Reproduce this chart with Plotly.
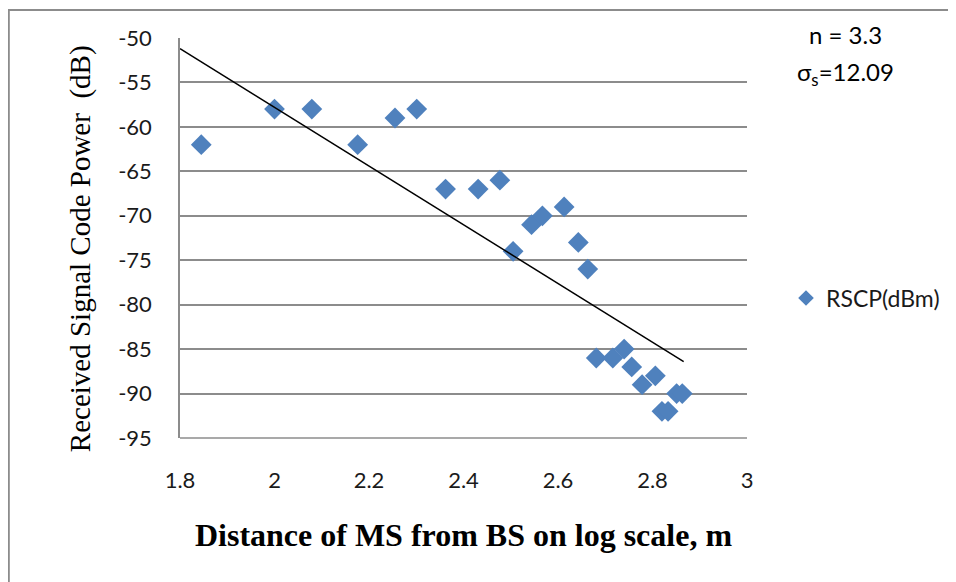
import plotly.graph_objects as go

# Data
dist_log = [1.845, 2.0, 2.079, 2.176, 2.255, 2.301, 2.362, 2.431, 2.477, 2.505,
            2.544, 2.567, 2.613, 2.643, 2.663, 2.681, 2.716, 2.740, 2.756, 2.778,
            2.806, 2.820, 2.833, 2.851, 2.863]
rscp = [-62, -58, -58, -62, -59, -58, -67, -67, -66, -74,
        -71, -70, -69, -73, -76, -86, -86, -85, -87, -89,
        -88, -92, -92, -90, -90]
trend_x = [1.8, 2.866]
trend_y = [-51.2, -86.4]
x_ticks = [1.8, 2, 2.2, 2.4, 2.6, 2.8, 3]
y_ticks = [-50, -55, -60, -65, -70, -75, -80, -85, -90, -95]

# Page geometry (the browser body adds an 8px margin)
OFF = 8
PW, PH = 956, 582
W, H = PW - OFF, PH - OFF
L, R, T, B = 180, 748, 38, 438  # plot area in page pixels


def px(xp):
    return (xp - L) / (R - L)


def py(yp):
    return (B - yp) / (B - T)


fig = go.Figure()
fig.add_trace(go.Scatter(x=dist_log, y=rscp, mode="markers", name="RSCP(dBm)",
                         marker=dict(symbol="diamond", size=16, color="#4F81BD",
                                     line=dict(width=0))))
fig.add_trace(go.Scatter(x=trend_x, y=trend_y, mode="lines", showlegend=False,
                         line=dict(color="black", width=1.5), hoverinfo="skip"))

sans = "Lato, Open Sans, sans-serif"
serif = "Liberation Serif, Times New Roman, serif"
tick_font = dict(family=sans, size=22, color="#1a1a1a")

fig.update_layout(
    width=W, height=H,
    margin=dict(l=L - OFF, r=W - (R - OFF), t=T - OFF, b=H - (B - OFF), pad=0),
    paper_bgcolor="white", plot_bgcolor="white",
    showlegend=True,
    legend=dict(x=px(786), y=py(298), xanchor="left", yanchor="middle",
                font=dict(family=sans, size=23, color="#1a1a1a"),
                bgcolor="rgba(0,0,0,0)", itemsizing="constant"),
    xaxis=dict(range=[1.8, 3], tickvals=x_ticks, ticktext=[str(v) for v in x_ticks],
               showgrid=False, zeroline=False, showline=False,
               ticks="outside", ticklen=23, tickcolor="rgba(0,0,0,0)",
               tickfont=tick_font,
               title=dict(text="<b>Distance of MS from BS on log scale, m</b>",
                          font=dict(family=serif, size=32, color="black"),
                          standoff=31)),
    yaxis=dict(range=[-95, -50], tickvals=y_ticks, ticktext=[str(v) for v in y_ticks],
               showgrid=True, gridcolor="#8c8c8c", gridwidth=1.5,
               zeroline=False, showline=True, linecolor="#8c8c8c", linewidth=1.5,
               ticks="outside", ticklen=22, tickcolor="rgba(0,0,0,0)",
               tickfont=tick_font),
    shapes=[
        dict(type="line", xref="paper", yref="paper", x0=0, x1=1, y0=0, y1=0,
             line=dict(color="#8c8c8c", width=1.5)),
        dict(type="line", xref="paper", yref="paper",
             x0=px(7.5), x1=px(PW), y0=py(10), y1=py(10),
             line=dict(color="#8c8c8c", width=2)),
        dict(type="line", xref="paper", yref="paper",
             x0=px(8.5), x1=px(8.5), y0=py(10), y1=py(PH),
             line=dict(color="#8c8c8c", width=2)),
    ],
    annotations=[
        dict(text="Received Signal Code Power&nbsp; (dB)", xref="paper", yref="paper",
             x=px(80), y=py(249), xanchor="center", yanchor="middle", showarrow=False,
             textangle=-90, font=dict(family=serif, size=29, color="black")),
        dict(text="n = 3.3", xref="paper", yref="paper",
             x=px(847), y=py(35), xanchor="center", yanchor="middle", showarrow=False,
             font=dict(family=sans, size=24, color="black")),
        dict(text="σ<sub>s</sub>=12.09", xref="paper", yref="paper",
             x=px(847), y=py(73), xanchor="center", yanchor="middle", showarrow=False,
             font=dict(family=sans, size=24, color="black")),
    ],
)

fig.write_html("out.html")
